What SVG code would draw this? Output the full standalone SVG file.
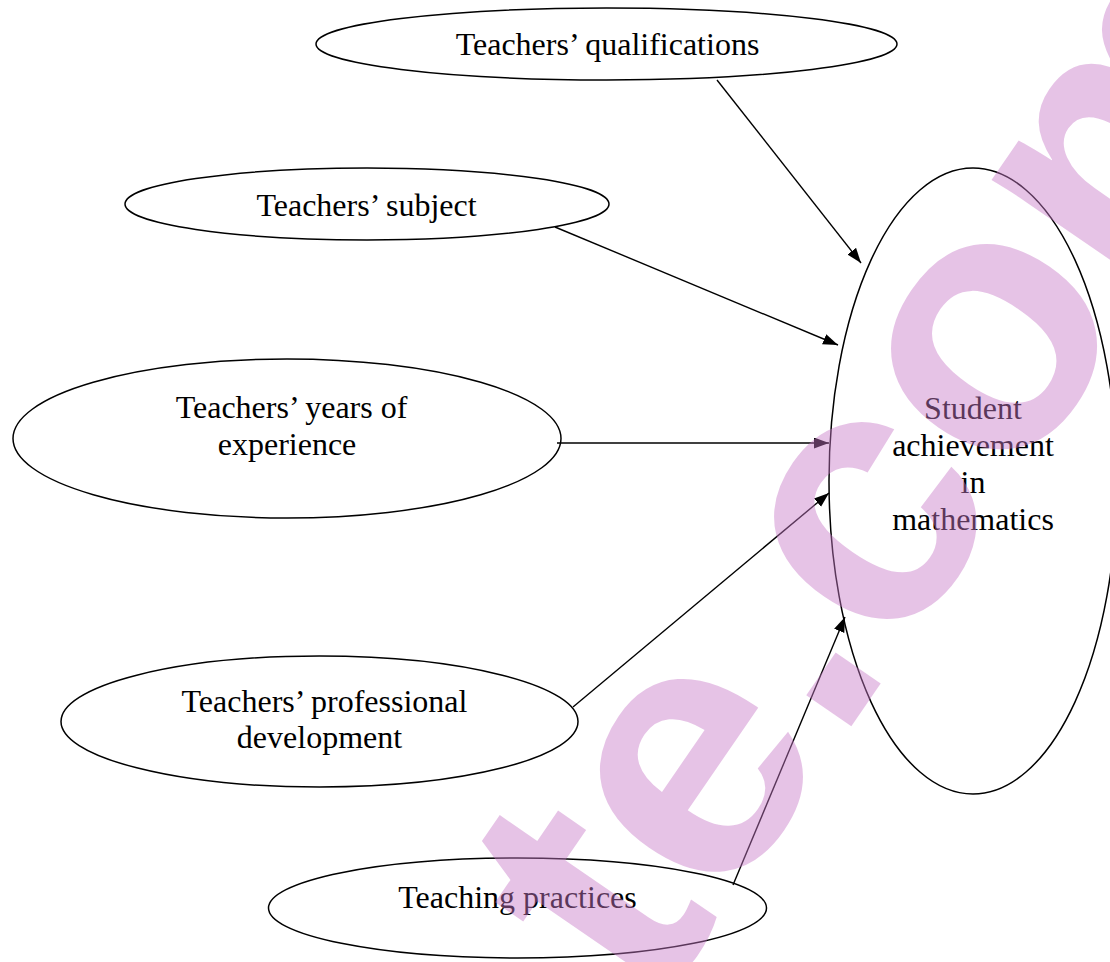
<svg xmlns="http://www.w3.org/2000/svg" width="1110" height="962" viewBox="0 0 1110 962">
  <style>
    .node ellipse { fill: none; stroke: #000; stroke-width: 1.5; }
    .label { font-family: "Liberation Serif", "Times New Roman", serif; font-size: 32px; fill: #000; text-anchor: middle; }
    .edge { fill: none; stroke: #000; stroke-width: 1.4; marker-end: url(#arrow); }
    .wm { font-family: "Liberation Sans", Arial, sans-serif; font-weight: bold; font-size: 367px; fill: #C87AC8; fill-opacity: 0.45; }
  </style>
  <defs>
    <marker id="arrow" markerUnits="userSpaceOnUse" markerWidth="16" markerHeight="12" refX="15" refY="5.5" orient="auto">
      <path d="M0,0 L15,5.5 L0,11 Z" fill="#000"/>
    </marker>
  </defs>
  <rect x="0" y="0" width="1110" height="962" fill="#fff"/>

  <g id="node-qualifications" class="node">
    <ellipse cx="606.5" cy="44" rx="290.5" ry="36"/>
    <text class="label" x="607.5" y="55">Teachers’ qualifications</text>
  </g>
  <g id="node-subject" class="node">
    <ellipse cx="367" cy="204" rx="242" ry="36"/>
    <text class="label" x="366.5" y="216">Teachers’ subject</text>
  </g>
  <g id="node-experience" class="node">
    <ellipse cx="287" cy="438.5" rx="274" ry="79.5"/>
    <text class="label" x="291.5" y="418">Teachers’ years of</text>
    <text class="label" x="287" y="455">experience</text>
  </g>
  <g id="node-professional" class="node">
    <ellipse cx="319.5" cy="721.5" rx="258.5" ry="65.5"/>
    <text class="label" x="324.5" y="712">Teachers’ professional</text>
    <text class="label" x="319.5" y="748">development</text>
  </g>
  <g id="node-practices" class="node">
    <ellipse cx="517.5" cy="908" rx="249" ry="50"/>
    <text class="label" x="517.5" y="908">Teaching practices</text>
  </g>
  <g id="node-achievement" class="node">
    <ellipse cx="973" cy="481" rx="144" ry="313"/>
    <text class="label" x="973" y="418.5">Student</text>
    <text class="label" x="973" y="456">achievement</text>
    <text class="label" x="973" y="493">in</text>
    <text class="label" x="973" y="530">mathematics</text>
  </g>

  <g id="connectors">
    <line class="edge" x1="717" y1="80" x2="861" y2="263"/>
    <line class="edge" x1="555" y1="227" x2="838" y2="345"/>
    <line class="edge" x1="557" y1="443" x2="829" y2="443"/>
    <line class="edge" x1="573" y1="707" x2="829" y2="493"/>
    <line class="edge" x1="733" y1="885" x2="845" y2="617"/>
  </g>

  <g id="watermark">
    <text class="wm" x="0" y="0" transform="translate(652.4,1015.7) rotate(-55.5)">te.com</text>
  </g>
</svg>
